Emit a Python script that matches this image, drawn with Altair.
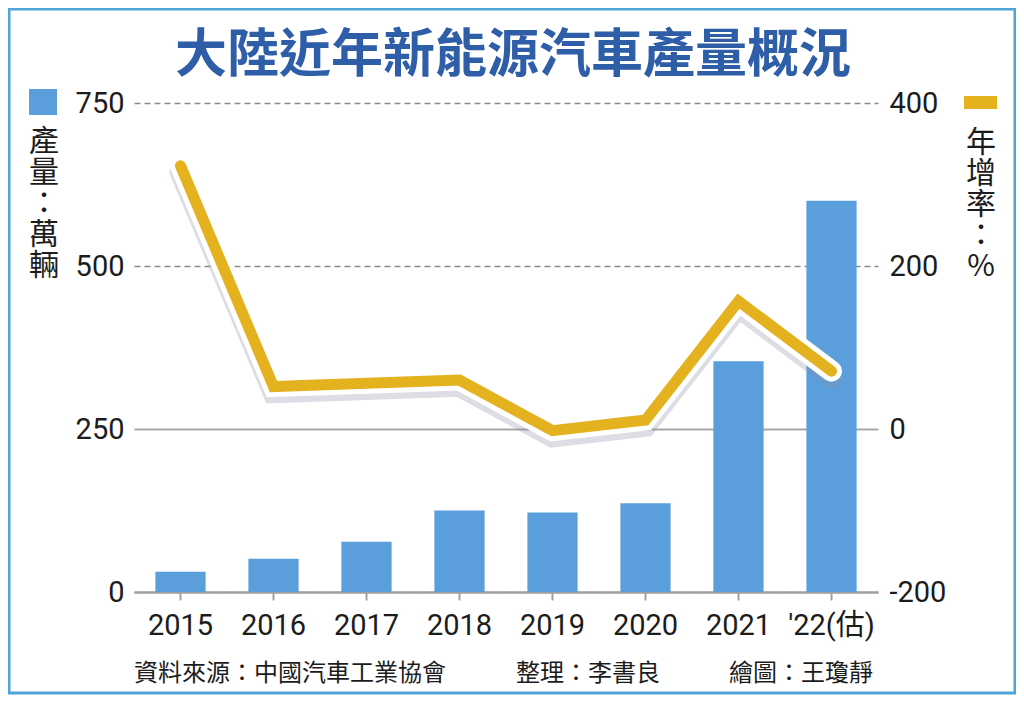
import altair as alt
import pandas as pd

# ---------------- data ----------------
years = ["2015", "2016", "2017", "2018", "2019", "2020", "2021", "'22(估)"]
production = [31, 51, 77, 125, 122, 136, 354, 600]      # 萬輛 (left axis)
growth = [323, 52, 56, 60, -2, 11, 157, 71]             # 年增率 % (right axis)
left_ticks = [0, 250, 500, 750]
right_ticks = [-200, 0, 200, 400]

title_text = "大陸近年新能源汽車產量概況"
left_label = ["產", "量", "：", "萬", "輛"]
right_label = ["年", "增", "率", "：", "%"]
source_text = "資料來源：中國汽車工業協會"
editor_text = "整理：李書良"
artist_text = "繪圖：王瓊靜"

df = pd.DataFrame({"year": years, "production": production, "growth": growth})
one = alt.Data(values=[{"k": 0}])

BLUE = "#5A9FDB"
GOLD = "#E4B21F"
FONT_NUM = "Roboto, 'Noto Sans CJK TC'"
FONT_CJK = "Noto Sans CJK TC"
TXT = "#1c1c1c"

x_enc = alt.X(
    "year:N", sort=years, title=None,
    scale=alt.Scale(paddingInner=0.46, paddingOuter=0.23),
    axis=alt.Axis(labelAngle=0, labelFont=FONT_NUM, labelFontSize=29, labelColor=TXT,
                  labelPadding=11, tickSize=8, tickColor="#a0a0a0", tickWidth=2,
                  domainColor="#a0a0a0", domainWidth=2.5, grid=False),
)

cond250 = "datum.value == 250"
left_axis = alt.Axis(
    values=left_ticks, orient="left", domain=False, ticks=False, labelPadding=10,
    labelFont=FONT_NUM, labelFontSize=29, labelColor=TXT, grid=True,
    gridColor={"condition": {"test": cond250, "value": "#a8a8a8"}, "value": "#8a8a8a"},
    gridDash={"condition": {"test": cond250, "value": []}, "value": [6, 4]},
    gridWidth={"condition": {"test": cond250, "value": 2.2}, "value": 1.4},
)
right_axis = alt.Axis(
    values=right_ticks, orient="right", domain=False, ticks=False, labelPadding=11,
    labelFont=FONT_NUM, labelFontSize=29, labelColor=TXT, grid=False,
    labelExpr="'' + datum.value",
)
right_scale = alt.Scale(domain=[-200, 400], nice=False)

# ---------------- decorations ----------------
frame = alt.Chart(one).mark_rect(filled=False, stroke="#4FA6D6", strokeWidth=3).encode(
    x=alt.value(-125), x2=alt.value(881), y=alt.value(-94), y2=alt.value(590))

title = alt.Chart(one).mark_text(
    text=title_text, font=FONT_CJK, fontSize=52, fontWeight="bold", color="#2F5EA9",
    align="center", baseline="middle").encode(x=alt.value(379), y=alt.value(-47))

left_key = alt.Chart(one).mark_rect(color=BLUE).encode(
    x=alt.value(-105), x2=alt.value(-77), y=alt.value(-14), y2=alt.value(12))
right_key = alt.Chart(one).mark_rect(color=GOLD).encode(
    x=alt.value(830), x2=alt.value(863), y=alt.value(-7), y2=alt.value(6))

left_txt = alt.Chart(one).mark_text(
    text=left_label, font=FONT_CJK, fontSize=30, lineHeight=31, color=TXT,
    align="center", baseline="top").encode(x=alt.value(-90), y=alt.value(24))
right_txt = alt.Chart(one).mark_text(
    text=right_label, font=FONT_CJK, fontSize=30, lineHeight=31, color=TXT,
    align="center", baseline="top").encode(x=alt.value(847), y=alt.value(25))

def foot(t, x):
    return alt.Chart(one).mark_text(
        text=t, font=FONT_CJK, fontSize=24, color=TXT, align="left",
        baseline="middle").encode(x=alt.value(x), y=alt.value(571))

footers = [foot(source_text, 0), foot(editor_text, 382), foot(artist_text, 595)]

# ---------------- data marks ----------------
bars = alt.Chart(df).mark_bar(color=BLUE).encode(
    x=x_enc,
    y=alt.Y("production:Q", title=None, scale=alt.Scale(domain=[0, 750], nice=False),
            axis=left_axis),
)

base = alt.Chart(df).encode(x=x_enc)
shadow = base.transform_calculate(sh="datum.growth - 7").mark_line(
    color="#8A90A8", opacity=0.3, strokeWidth=22, strokeCap="round", strokeJoin="miter"
).encode(y=alt.Y("sh:Q", title=None, scale=right_scale, axis=right_axis))
outline = base.mark_line(
    color="white", strokeWidth=21, strokeCap="round", strokeJoin="miter"
).encode(y=alt.Y("growth:Q", title=None, scale=right_scale, axis=right_axis))
gold = base.mark_line(
    color=GOLD, strokeWidth=11, strokeCap="round", strokeJoin="miter"
).encode(y=alt.Y("growth:Q", title=None, scale=right_scale, axis=right_axis))

lines = alt.layer(shadow, outline, gold)

chart = alt.layer(
    frame, title, left_key, right_key, left_txt, right_txt, *footers, bars, lines
).resolve_scale(y="independent").properties(
    width=744, height=489,
    autosize=alt.AutoSizeParams(type="none"),
    padding={"left": 126, "top": 95, "right": 138, "bottom": 108},
    background="white",
).configure_view(stroke=None)

chart.save("out.html", embed_options={"renderer": "svg", "actions": False})
